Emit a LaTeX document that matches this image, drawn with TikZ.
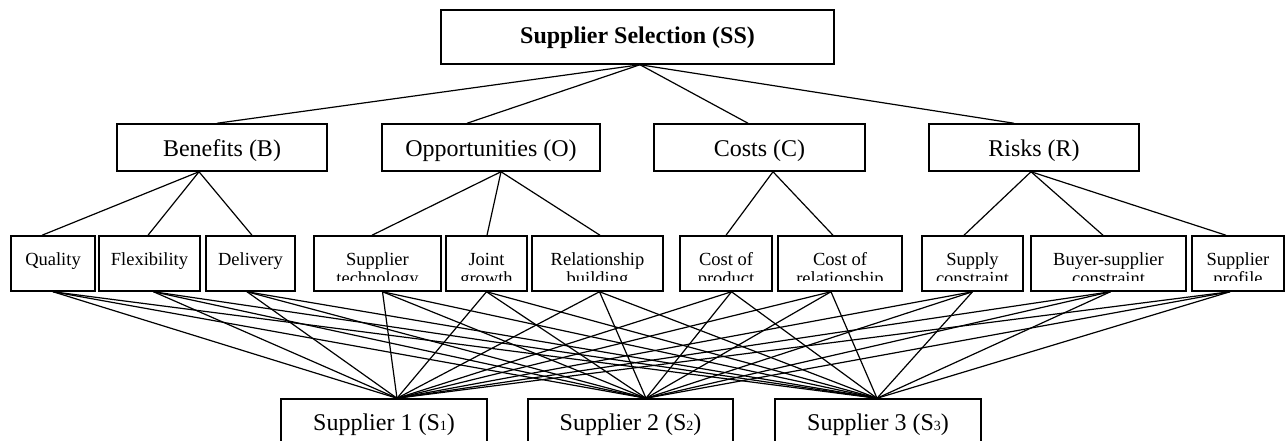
\documentclass[tikz,border=0pt]{standalone}
\usepackage{fontspec}
\setmainfont{Liberation Serif}
\begin{document}
\begin{tikzpicture}[x=1pt,y=-1pt,
  bx/.style={draw, line width=1.5pt, inner sep=0pt, rectangle},
  lnk/.style={line width=1.2pt},
  bigt/.style={font=\fontsize{24}{28}\selectfont, inner sep=0pt, anchor=base},
  smt/.style={font=\fontsize{18.5}{21}\selectfont, inner sep=0pt, anchor=base},
]
\clip (0,0) rectangle (1285,441);
\fill[white] (0,0) rectangle (1285,441);

% level 1
\node[bx, minimum width=393pt, minimum height=54pt] (SS) at (637.5,37) {};
\node[bigt, font=\fontsize{24}{28}\selectfont\bfseries] (tSS) at (637.5,44) {Supplier Selection (SS)};

% level 2
\node[bx, minimum width=210pt, minimum height=47pt] (B) at (222,147.5) {};
\node[bx, minimum width=218pt, minimum height=47pt] (O) at (491,147.5) {};
\node[bx, minimum width=211pt, minimum height=47pt] (C) at (759.5,147.5) {};
\node[bx, minimum width=210pt, minimum height=47pt] (R) at (1034,147.5) {};
\node[bigt] (tB) at (222,157) {Benefits (B)};
\node[bigt] (tO) at (491,157) {Opportunities (O)};
\node[bigt] (tC) at (759.5,157) {Costs (C)};
\node[bigt] (tR) at (1034,157) {Risks (R)};

% level 3
\node[bx, minimum width=84pt,  minimum height=55pt] (Q)  at (53,263.5) {};
\node[bx, minimum width=101pt, minimum height=55pt] (F)  at (149.5,263.5) {};
\node[bx, minimum width=89pt,  minimum height=55pt] (D)  at (250.5,263.5) {};
\node[bx, minimum width=127pt, minimum height=55pt] (ST) at (377.5,263.5) {};
\node[bx, minimum width=81pt,  minimum height=55pt] (JG) at (486.5,263.5) {};
\node[bx, minimum width=131pt, minimum height=55pt] (RB) at (597.5,263.5) {};
\node[bx, minimum width=92pt,  minimum height=55pt] (CP) at (726,263.5) {};
\node[bx, minimum width=124pt, minimum height=55pt] (CR) at (840,263.5) {};
\node[bx, minimum width=101pt, minimum height=55pt] (SC) at (972.5,263.5) {};
\node[bx, minimum width=155pt, minimum height=55pt] (BS) at (1108.5,263.5) {};
\node[bx, minimum width=92pt,  minimum height=55pt] (SP) at (1238,263.5) {};

\begin{scope}
\clip (0,237) rectangle (1285,280);
\node[smt] (tQ)   at (53,265) {Quality};
\node[smt] (tF)   at (149.5,265) {Flexibility};
\node[smt] (tD)   at (250.5,265) {Delivery};
\node[smt] (tST1) at (377.5,265) {Supplier};
\node[smt] (tST2) at (377.5,284.5) {technology};
\node[smt] (tJG1) at (486.5,265) {Joint};
\node[smt] (tJG2) at (486.5,284.5) {growth};
\node[smt] (tRB1) at (597.5,265) {Relationship};
\node[smt] (tRB2) at (597.5,284.5) {building};
\node[smt] (tCP1) at (726,265) {Cost of};
\node[smt] (tCP2) at (726,284.5) {product};
\node[smt] (tCR1) at (840,265) {Cost of};
\node[smt] (tCR2) at (840,284.5) {relationship};
\node[smt] (tSC1) at (972.5,265) {Supply};
\node[smt] (tSC2) at (972.5,284.5) {constraint};
\node[smt] (tBS1) at (1108.5,265) {Buyer-supplier};
\node[smt] (tBS2) at (1108.5,284.5) {constraint};
\node[smt] (tSP1) at (1238,265) {Supplier};
\node[smt] (tSP2) at (1238,284.5) {profile};
\end{scope}

% level 4
\node[bx, minimum width=206pt, minimum height=47pt] (S1) at (384,422.5) {};
\node[bx, minimum width=205pt, minimum height=47pt] (S2) at (630.5,422.5) {};
\node[bx, minimum width=206pt, minimum height=47pt] (S3) at (878,422.5) {};
\node[bigt] (tS1) at (384,430) {Supplier 1 (S{\fontsize{14}{14}\selectfont 1})};
\node[bigt] (tS2) at (630.5,430) {Supplier 2 (S{\fontsize{14}{14}\selectfont 2})};
\node[bigt] (tS3) at (878,430) {Supplier 3 (S{\fontsize{14}{14}\selectfont 3})};

% connectors level 1 -> 2
\draw[lnk] ([xshift=2.5pt]SS.south) -- ([xshift=-5pt]B.north);
\draw[lnk] ([xshift=2.5pt]SS.south) -- ([xshift=-24pt]O.north);
\draw[lnk] ([xshift=2.5pt]SS.south) -- ([xshift=-11.5pt]C.north);
\draw[lnk] ([xshift=2.5pt]SS.south) -- ([xshift=-20pt]R.north);

% connectors level 2 -> 3
\draw[lnk] ([xshift=-23pt]B.south) -- ([xshift=-11pt]Q.north);
\draw[lnk] ([xshift=-23pt]B.south) -- ([xshift=-1.5pt]F.north);
\draw[lnk] ([xshift=-23pt]B.south) -- ([xshift=1.5pt]D.north);
\draw[lnk] ([xshift=10pt]O.south) -- ([xshift=-5.5pt]ST.north);
\draw[lnk] ([xshift=10pt]O.south) -- ([xshift=0.5pt]JG.north);
\draw[lnk] ([xshift=10pt]O.south) -- ([xshift=2.5pt]RB.north);
\draw[lnk] ([xshift=13.5pt]C.south) -- (CP.north);
\draw[lnk] ([xshift=13.5pt]C.south) -- ([xshift=-7pt]CR.north);
\draw[lnk] ([xshift=-3pt]R.south) -- ([xshift=-8.5pt]SC.north);
\draw[lnk] ([xshift=-3pt]R.south) -- ([xshift=-5.5pt]BS.north);
\draw[lnk] ([xshift=-3pt]R.south) -- ([xshift=-12pt]SP.north);

% connectors level 3 -> 4
\foreach \n/\o in {Q/0,F/4,D/-3.5,ST/5,JG/0,RB/2,CP/5.5,CR/-9,SC/0,BS/2,SP/-8} {
  \foreach \s/\so in {S1/13,S2/15.5,S3/-1} {
    \draw[lnk] ([xshift=\o pt]\n.south) -- ([xshift=\so pt]\s.north);
  }
}
\end{tikzpicture}
\end{document}
